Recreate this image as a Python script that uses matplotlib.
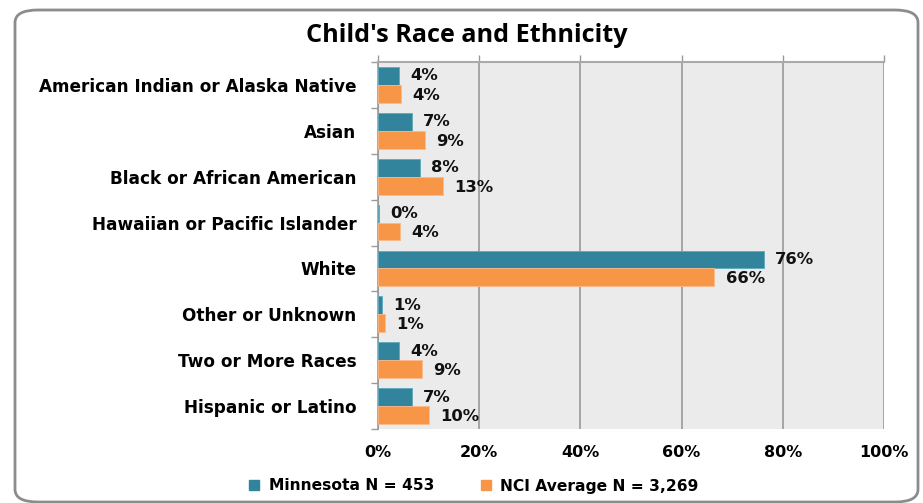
import matplotlib.pyplot as plt
import numpy as np
from matplotlib.patches import FancyBboxPatch

categories = ["American Indian or Alaska Native", "Asian", "Black or African American",
              "Hawaiian or Pacific Islander", "White", "Other or Unknown",
              "Two or More Races", "Hispanic or Latino"]
minnesota = [4.2, 6.7, 8.3, 0.2, 76.3, 0.8, 4.2, 6.7]
nci_avg = [4.5, 9.3, 12.8, 4.3, 66.5, 1.4, 8.7, 10.1]
mn_labels = ["4%", "7%", "8%", "0%", "76%", "1%", "4%", "7%"]
nci_labels = ["4%", "9%", "13%", "4%", "66%", "1%", "9%", "10%"]
xticks = [0, 20, 40, 60, 80, 100]

teal = "#31849B"
orange = "#F79646"

fig = plt.figure(figsize=(9.23, 5.03), dpi=100)
W, H = 923, 503

# rounded chart border, bottom corners just at the image edge
fig.patches.append(FancyBboxPatch((15 / W, 1 / H), (918 - 15) / W, (503 - 10 - 1) / H,
                                  boxstyle="round,pad=0,rounding_size=0.025",
                                  transform=fig.transFigure, facecolor="white",
                                  edgecolor="#8c8c8c", linewidth=2, zorder=-5))

ax = fig.add_axes([378 / W, 1 - 429 / H, (884 - 378) / W, (429 - 62) / H])
ax.set_facecolor("#EBEBEB")

y = np.arange(len(categories))
h = 0.39
ax.barh(y - h / 2, minnesota, height=h, color=teal, edgecolor="#5fa9bd", linewidth=0.6, zorder=3)
ax.barh(y + h / 2, nci_avg, height=h, color=orange, edgecolor="#fbb98a", linewidth=0.6, zorder=3)

for i in range(len(categories)):
    ax.text(minnesota[i] + 2.2, y[i] - h / 2, mn_labels[i], va="center", ha="left",
            fontsize=11.8, fontweight="bold", color="#111111", zorder=4)
    ax.text(nci_avg[i] + 2.2, y[i] + h / 2 + 0.03, nci_labels[i], va="center", ha="left",
            fontsize=11.8, fontweight="bold", color="#111111", zorder=4)

ax.set_xlim(0, 100)
ax.set_ylim(len(categories) - 0.5, -0.5)
ax.set_xticks(xticks)
ax.set_xticklabels([f"{t}%" for t in xticks], fontsize=11.5, fontweight="bold")
ax.set_yticks(y)
ax.set_yticklabels(categories, fontsize=12.2, fontweight="bold")
ax.set_yticks(np.arange(-0.5, len(categories), 1), minor=True)
ax.tick_params(axis="y", which="major", length=0, pad=15.5)
ax.tick_params(axis="y", which="minor", length=5, color="#999999", width=1)
ax.tick_params(axis="x", bottom=False, top=True, length=5, color="#999999", width=1, pad=6.5)
ax.grid(axis="x", color="#999999", linewidth=1.2, zorder=0)

for s in ["bottom", "right"]:
    ax.spines[s].set_visible(False)
ax.spines["left"].set_color("#999999")
ax.spines["top"].set_color("#aaaaaa")
ax.spines["left"].set_linewidth(1.2)
ax.spines["top"].set_linewidth(1.5)

fig.text(467 / W, 1 - 36 / H, "Child's Race and Ethnicity", ha="center", va="center",
         fontsize=18.2, fontweight="bold", family="Open Sans")

# legend
handles = [plt.Rectangle((0, 0), 1, 1, color=teal), plt.Rectangle((0, 0), 1, 1, color=orange)]
fig.legend(handles, ["Minnesota N = 453", "NCI Average N = 3,269"], loc="center",
           bbox_to_anchor=(474 / W, 1 - 486 / H), ncol=2, frameon=False,
           prop={"size": 11.2, "weight": "bold"}, handlelength=0.65, handleheight=0.65,
           handletextpad=0.6, columnspacing=3.0)

fig.savefig("out.png", dpi=100)
